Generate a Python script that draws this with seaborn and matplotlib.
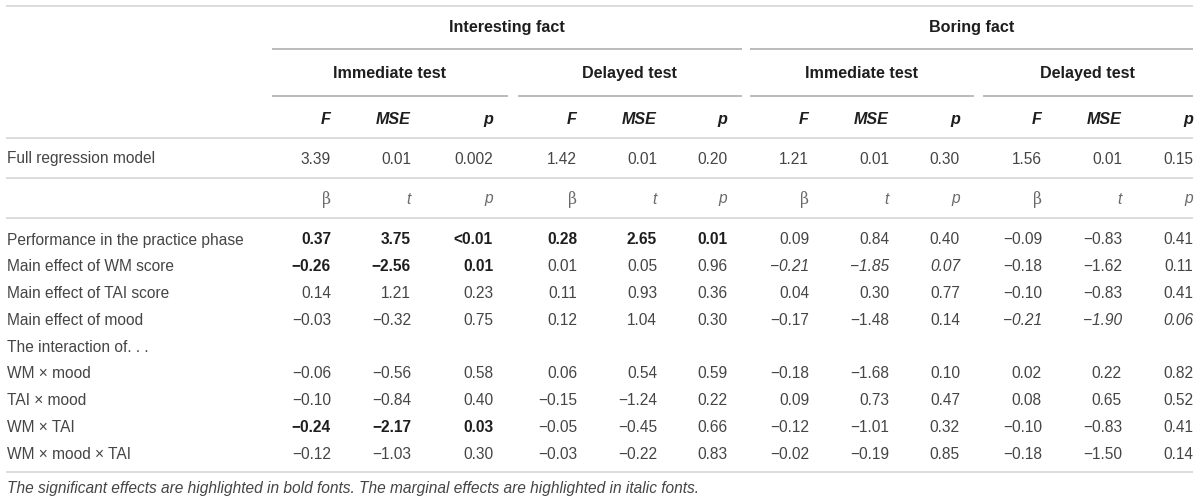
import matplotlib
matplotlib.use("Agg")
import matplotlib.pyplot as plt
import seaborn as sns

# table content
groups = ["Interesting fact", "Boring fact"]
tests = ["Immediate test", "Delayed test", "Immediate test", "Delayed test"]
stat_header = ["F", "MSE", "p"] * 4
coef_header = ["β", "t", "p"] * 4

full_label = "Full regression model"
full_model = [3.39, 0.01, 0.002, 1.42, 0.01, 0.20, 1.21, 0.01, 0.30, 1.56, 0.01, 0.15]

row_labels = [
    "Performance in the practice phase",
    "Main effect of WM score",
    "Main effect of TAI score",
    "Main effect of mood",
    "The interaction of. . .",
    "WM × mood",
    "TAI × mood",
    "WM × TAI",
    "WM × mood × TAI",
]
practice = [0.37, 3.75, "<0.01", 0.28, 2.65, 0.01, 0.09, 0.84, 0.40, -0.09, -0.83, 0.41]
wm_score = [-0.26, -2.56, 0.01, 0.01, 0.05, 0.96, -0.21, -1.85, 0.07, -0.18, -1.62, 0.11]
tai_score = [0.14, 1.21, 0.23, 0.11, 0.93, 0.36, 0.04, 0.30, 0.77, -0.10, -0.83, 0.41]
mood = [-0.03, -0.32, 0.75, 0.12, 1.04, 0.30, -0.17, -1.48, 0.14, -0.21, -1.90, 0.06]
interaction = [None] * 12
wm_mood = [-0.06, -0.56, 0.58, 0.06, 0.54, 0.59, -0.18, -1.68, 0.10, 0.02, 0.22, 0.82]
tai_mood = [-0.10, -0.84, 0.40, -0.15, -1.24, 0.22, 0.09, 0.73, 0.47, 0.08, 0.65, 0.52]
wm_tai = [-0.24, -2.17, 0.03, -0.05, -0.45, 0.66, -0.12, -1.01, 0.32, -0.10, -0.83, 0.41]
wm_mood_tai = [-0.12, -1.03, 0.30, -0.03, -0.22, 0.83, -0.02, -0.19, 0.85, -0.18, -1.50, 0.14]
rows = [practice, wm_score, tai_score, mood, interaction, wm_mood, tai_mood, wm_tai, wm_mood_tai]

# significant (bold) and marginal (italic) cells: (row, first col, last col)
bold_cells = [(0, 0, 5), (1, 0, 2), (7, 0, 2)]
italic_cells = [(1, 6, 8), (3, 9, 11)]

footnote = ("The significant effects are highlighted in bold fonts. "
            "The marginal effects are highlighted in italic fonts.")


def fmt(v):
    if v is None:
        return ""
    if isinstance(v, str):
        return v
    s = f"{abs(v):.2f}" if round(v, 2) == v else f"{abs(v):.3f}"
    return ("\u2212" + s) if v < 0 else s


def cell_style(r, c):
    for rr, a, b in bold_cells:
        if rr == r and a <= c <= b:
            return "bold", "normal"
    for rr, a, b in italic_cells:
        if rr == r and a <= c <= b:
            return "normal", "italic"
    return "normal", "normal"


sns.set_theme(style="white")
plt.rcParams["font.family"] = ["Liberation Sans", "DejaVu Sans"]

fig = plt.figure(figsize=(12, 5.03), dpi=100)
ax = fig.add_axes([0, 0, 1, 1])
ax.set_xlim(0, 1200)
ax.set_ylim(503, 0)
ax.axis("off")

fs = 11.2
txt = "#454545"
head = "#1e1e1e"
light = "#d6d6d6"
mid = "#a8a8a8"

col_right = [331, 411, 493, 577, 657, 727, 809, 889, 960, 1042, 1122, 1193]
left = 6
right = 1193

# horizontal rules
for y in [6, 138, 178, 218, 472]:
    ax.hlines(y, left, right, color=light, lw=1.2)
group_spans = [(272, 742), (750, 1193)]
test_spans = [(272, 508), (518, 742), (750, 974), (983, 1193)]
for (a, b), g in zip(group_spans, groups):
    ax.hlines(49, a, b, color=mid, lw=1.1)
    ax.text((a + b) / 2, 27, g, ha="center", va="center", fontsize=fs + 0.4,
            fontweight="bold", color=head)
for (a, b), t in zip(test_spans, tests):
    ax.hlines(96, a, b, color=mid, lw=1.1)
    ax.text((a + b) / 2, 73, t, ha="center", va="center", fontsize=fs + 0.4,
            fontweight="bold", color=head)

# column headers
for x, h in zip(col_right, stat_header):
    ax.text(x, 119, h, ha="right", va="center", fontsize=fs + 0.4,
            fontweight="bold", fontstyle="italic", color=head)

# full model row
ax.text(left + 1, 159, full_label, ha="left", va="center", fontsize=fs, color=txt)
for x, v in zip(col_right, full_model):
    ax.text(x, 159, fmt(v), ha="right", va="center", fontsize=fs, color=txt)

# coefficient header
for x, h in zip(col_right, coef_header):
    style = "normal" if h == "β" else "italic"
    ax.text(x, 199, h, ha="right", va="center", fontsize=fs, fontstyle=style,
            color="#6a6a6a", family=["DejaVu Serif"] if h == "β" else None)

# body rows
y0, dy = 240, 26.8
for r, (lab, vals) in enumerate(zip(row_labels, rows)):
    y = y0 + r * dy
    ax.text(left + 1, y, lab, ha="left", va="center", fontsize=fs, color=txt)
    for c, (x, v) in enumerate(zip(col_right, vals)):
        w, st = cell_style(r, c)
        ax.text(x, y, fmt(v), ha="right", va="center", fontsize=fs,
                fontweight=w, fontstyle=st, color=head if w == "bold" else txt)

ax.text(left + 1, 489, footnote, ha="left", va="center", fontsize=fs,
        fontstyle="italic", color=txt)

fig.savefig("out.png", dpi=100)
plt.close(fig)
